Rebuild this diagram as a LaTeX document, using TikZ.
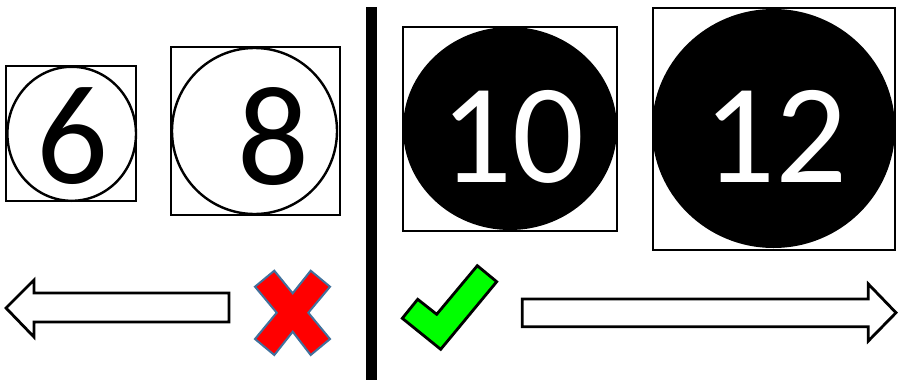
\documentclass[tikz,border=0pt]{standalone}
\usepackage{fontspec}
\setmainfont{Carlito}
\definecolor{xred}{RGB}{255,0,0}
\definecolor{xedge}{RGB}{65,113,156}
\definecolor{okgreen}{RGB}{0,255,0}
\begin{document}
\begin{tikzpicture}[x=1pt,y=-1pt,line join=miter,
  frame/.style={draw=black,line width=2.4pt},
  ring/.style={draw=black,line width=2.4pt,fill=white},
  disc/.style={fill=black},
  num/.style={font=\fontsize{142}{142}\selectfont,inner sep=0pt,anchor=base},
  blockarrow/.style={draw=black,line width=2.8pt,fill=white},
  cross/.style={fill=xred,draw=xedge,line width=2pt},
  tick/.style={fill=okgreen,draw=black,line width=2.8pt}]
\useasboundingbox (0,0) rectangle (902,383);
\fill[white] (0,0) rectangle (902,383);
% left group
\draw[frame] (6,66) rectangle (136,201);
\draw[ring] (71.7,133.8) ellipse (64.3 and 67);
\node[num] (six) at (72,183) {6};
\draw[frame] (171,47) rectangle (340,215);
\draw[ring] (254.5,131) ellipse (82.5 and 83);
\node[num] (eight) at (273,184.5) {8};
% divider
\fill[black] (366,7) rectangle (377,380);
% right group
\draw[frame] (403,27) rectangle (617,231);
\fill[disc] (510,128.5) ellipse (107 and 101.5);
\node[num,text=white] (ten) at (512,182) {10};
\draw[frame] (653,8) rectangle (895,250);
\fill[disc] (773.5,128.5) ellipse (121.5 and 119.5);
\node[num,text=white] (twelve) at (775,182) {12};
% left arrow
\draw[blockarrow] (6,308) -- (34,280) -- (34,293) -- (229,293) -- (229,322) -- (34,322) -- (34,337) -- cycle;
% red cross
\draw[cross] (255,286.7) -- (274.3,270.7) -- (292.7,293.3) -- (310.7,270.7) -- (330,286.7) -- (308.3,312.7) -- (330,339) -- (310.7,355) -- (292.7,331.7) -- (274.3,355) -- (255,339) -- (276.7,312.7) -- cycle;
% green tick
\draw[tick] (402.3,318.3) -- (417.7,299.3) -- (436.7,314.3) -- (477.3,265.7) -- (496.7,281.7) -- (440.7,349.3) -- cycle;
% right arrow
\draw[blockarrow] (522.3,299) -- (868.3,299) -- (868.3,284) -- (896,312.7) -- (868.3,341) -- (868.3,326.7) -- (522.3,326.7) -- cycle;
\end{tikzpicture}
\end{document}
